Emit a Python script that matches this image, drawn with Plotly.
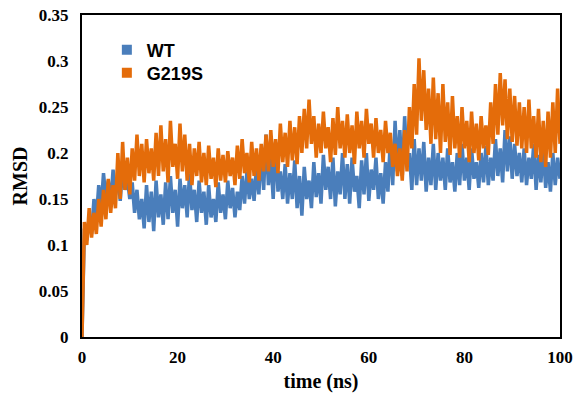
import plotly.graph_objects as go

time_ns = [i * 0.5 for i in range(201)]

# RMSD values in 1e-3 nm (0.5 ns sampling)
wt_milli = [
    0,
    118, 105, 130, 112,
    150, 128, 165, 140, 178, 150,
    170, 145, 182, 155, 175, 148, 185, 160, 172, 150,
    168, 135, 160, 128,
    150, 118, 165, 125, 158, 115, 170, 130, 155, 122,
    168, 128, 175, 135, 160, 120, 172, 140, 165, 130, 178, 138, 160, 125, 170, 135,
    158, 122, 165, 130, 150, 125, 168, 135, 155, 128, 170, 140, 162, 130, 158, 138, 175, 145, 180, 150,
    172, 148, 185, 155, 205, 160, 220, 165, 195, 150, 212, 158, 180, 150,
    188, 145, 178, 150, 192, 140, 175, 132, 185, 150, 170, 140,
    190, 152, 178, 145, 198, 160, 185, 150, 195, 142, 180, 155, 200, 150,
    188, 145, 195, 158, 175, 140, 192, 155, 200, 148, 182, 160, 195, 150, 178, 145, 190, 158, 215, 165,
    235, 180, 225, 175, 240, 185,
    200, 160, 215, 165, 205, 170, 212, 158, 195, 165, 210, 160, 200, 170,
    195, 160, 205, 168, 190, 158, 200, 165, 210, 170, 195, 160, 205, 172, 190, 162, 200, 168, 208, 165,
    195, 170, 215, 175, 205, 168, 225, 180, 218, 172, 210, 175, 200, 168,
    205, 165, 195, 172, 210, 160, 198, 168, 205, 162, 190, 158, 200, 165, 195, 172,
]

g219s_milli = [
    0,
    125, 100, 140, 108, 135, 112,
    150, 120, 160, 128, 172, 135, 165, 140,
    200, 150, 212, 160, 195, 155,
    205, 170, 220, 175, 210, 168, 215, 178, 205, 170,
    222, 175, 230, 180, 215, 168, 235, 185, 210, 172,
    232, 180, 220, 170, 210, 165, 205, 175, 212, 168,
    200, 165, 208, 172, 195, 163, 205, 170, 198, 168, 202, 175, 195, 165,
    208, 172, 215, 178, 200, 168, 212, 175, 205, 170, 210, 180,
    220, 180, 225, 185, 215, 178, 232, 190, 222, 185, 235, 192, 228, 188,
    240, 200, 248, 205, 258, 210,
    240, 195, 232, 200, 245, 205, 228, 190, 238, 198,
    250, 205, 235, 195, 242, 200, 230, 188, 245, 205,
    235, 195, 248, 210, 232, 195, 238, 200, 225, 190,
    235, 200, 222, 185,
    210, 175, 205, 170, 225, 180,
    250, 205, 275, 220, 303, 235, 290, 225,
    270, 210, 282, 215, 265, 200, 275, 212, 255, 198, 262, 205,
    240, 195, 250, 205, 235, 190, 245, 200, 232, 192, 240, 205, 230, 198,
    255, 210, 275, 220, 287, 230, 280, 215, 270, 212, 262, 208, 255, 205,
    250, 200, 258, 205, 240, 195, 248, 190, 235, 185, 245, 195, 255, 200, 270, 210,
]

wt_rmsd = [v / 1000 for v in wt_milli]
g219s_rmsd = [v / 1000 for v in g219s_milli]

series_names = ["WT", "G219S"]
series_colors = ["#4a7ebb", "#e46c0a"]
legend_ids = ["legend", "legend2"]

x_ticks = [0, 20, 40, 60, 80, 100]
y_ticks = [0, 0.05, 0.1, 0.15, 0.2, 0.25, 0.3, 0.35]

fig = go.Figure()
for name, vals, col in zip(series_names, [wt_rmsd, g219s_rmsd], series_colors):
    fig.add_trace(go.Scatter(x=time_ns, y=vals, mode="lines", name=name,
                             line=dict(color=col, width=3.5), showlegend=False))
for name, col, lg in zip(series_names, series_colors, legend_ids):
    fig.add_trace(go.Scatter(x=[None], y=[None], mode="markers", name=name, legend=lg,
                             marker=dict(color=col, symbol="square", size=10)))

axis_font = dict(family="Liberation Serif", size=17, color="black", weight="bold")
title_font = dict(family="Liberation Serif", size=20, color="black", weight="bold")
legend_font = dict(family="Liberation Sans", size=18, color="black", weight="bold")
fig.update_layout(
    width=575, height=398,
    margin=dict(l=82, r=15, t=15, b=61, autoexpand=False),
    plot_bgcolor="white", paper_bgcolor="white",
    showlegend=True,
    legend=dict(x=0.052, y=0.891, xanchor="left", yanchor="middle", font=legend_font,
                bgcolor="rgba(0,0,0,0)", itemwidth=30),
    legend2=dict(x=0.052, y=0.820, xanchor="left", yanchor="middle", font=legend_font,
                 bgcolor="rgba(0,0,0,0)", itemwidth=30),
    xaxis=dict(range=[0, 100], tickvals=x_ticks, showgrid=False, zeroline=False,
               showline=True, linecolor="black", linewidth=2, mirror=True, automargin=False,
               ticks="", tickfont=axis_font, ticklabelstandoff=4, ticklabeloverflow="allow",
               title=dict(text="time (ns)", font=title_font, standoff=8)),
    yaxis=dict(range=[0, 0.35], tickvals=y_ticks, showgrid=False, zeroline=False,
               showline=True, linecolor="black", linewidth=2, mirror=True, automargin=False,
               ticks="", tickfont=axis_font, ticklabelstandoff=8, ticklabeloverflow="allow",
               title=dict(text="RMSD", font=title_font, standoff=6)),
)

fig.write_html("out.html", config={"displayModeBar": False},
               post_script="document.body.style.margin = '0px';")
